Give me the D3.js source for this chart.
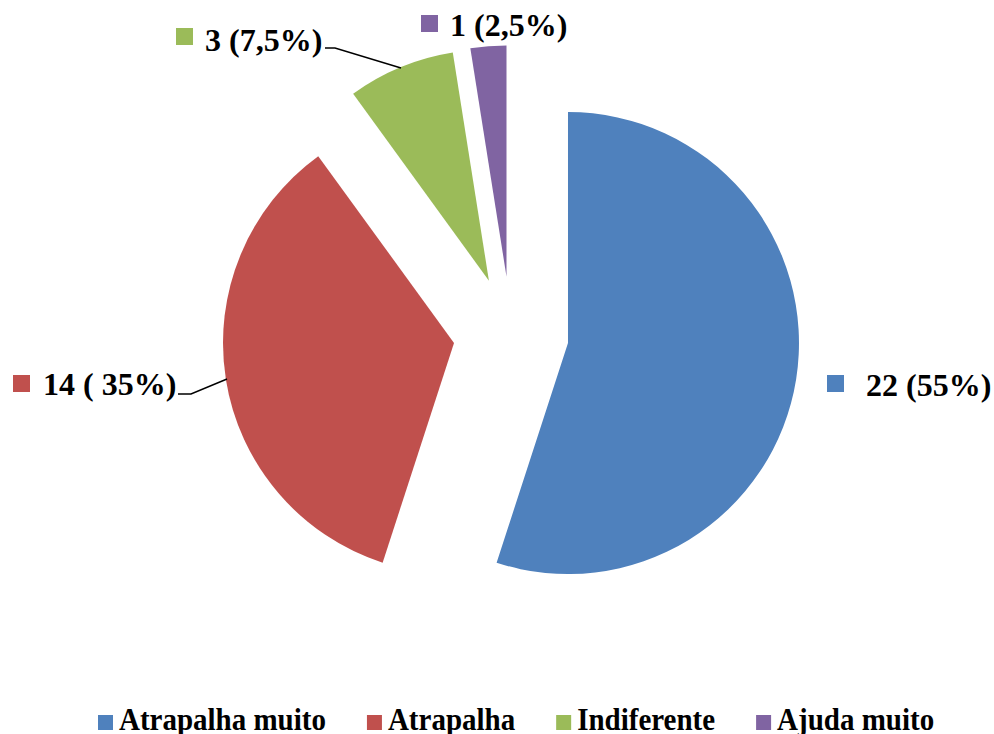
<!DOCTYPE html>
<html>
<head>
<meta charset="utf-8">
<script src="https://cdn.jsdelivr.net/npm/d3@7"></script>
<style>
html,body{margin:0;padding:0;background:#fff;}
svg{display:block;}
text{font-family:"Liberation Serif","Times New Roman",serif;font-weight:bold;fill:#000;}
</style>
</head>
<body>
<svg id="chart" width="994" height="734"></svg>
<script>
const categories = ["Atrapalha muito", "Atrapalha", "Indiferente", "Ajuda muito"];
const values = [22, 14, 3, 1];
const dataLabels = ["22 (55%)", "14 ( 35%)", "3 (7,5%)", "1 (2,5%)"];
const colors = ["#4F81BD", "#C0504D", "#9BBB59", "#8064A2"];

const W = 994, H = 734;
const cx = 511, cy = 334, R = 231, explode = 57.7;

const svg = d3.select("#chart");
const pie = d3.pie().sort(null).value(d => d).startAngle(0).endAngle(2 * Math.PI);
const arcs = pie(values);
const arcGen = d3.arc().innerRadius(0).outerRadius(R);

const g = svg.append("g").attr("transform", `translate(${cx},${cy})`);
g.selectAll("path.slice").data(arcs).enter().append("path")
  .attr("class", "slice")
  .attr("d", arcGen)
  .attr("fill", (d, i) => colors[i])
  .attr("transform", d => {
    const a = (d.startAngle + d.endAngle) / 2;
    return `translate(${explode * Math.sin(a)},${-explode * Math.cos(a)})`;
  });

// data label layout (positions only)
const labelPos = [
  {sq: [827, 375], tx: 866, ty: 396},
  {sq: [13, 375], tx: 43, ty: 395},
  {sq: [176, 28], tx: 205, ty: 51},
  {sq: [421, 15], tx: 450, ty: 36}
];
const leaders = [
  null,
  [[178, 394], [191, 394], [227, 379]],
  [[325, 48], [335, 48], [401, 68]],
  null
];

const lbl = svg.append("g");
arcs.forEach((d, i) => {
  const p = labelPos[i];
  lbl.append("rect").attr("x", p.sq[0]).attr("y", p.sq[1]).attr("width", 17).attr("height", 17)
    .attr("fill", colors[i]);
  lbl.append("text").attr("x", p.tx).attr("y", p.ty).attr("font-size", 32).text(dataLabels[i]);
  if (leaders[i]) {
    lbl.append("path").attr("d", d3.line()(leaders[i]))
      .attr("fill", "none").attr("stroke", "#000").attr("stroke-width", 1.5);
  }
});

// legend
const leg = svg.append("g");
let x = 98;
const ly = 730;
categories.forEach((c, i) => {
  leg.append("rect").attr("x", x).attr("y", ly - 15).attr("width", 15).attr("height", 15).attr("fill", colors[i]);
  const t = leg.append("text")
    .attr("transform", `translate(${x + 21},${ly}) scale(1,1.1)`)
    .attr("font-size", 29).text(c);
  const w = t.node().getComputedTextLength();
  x = x + 21 + w + 41;
});
</script>
</body>
</html>
